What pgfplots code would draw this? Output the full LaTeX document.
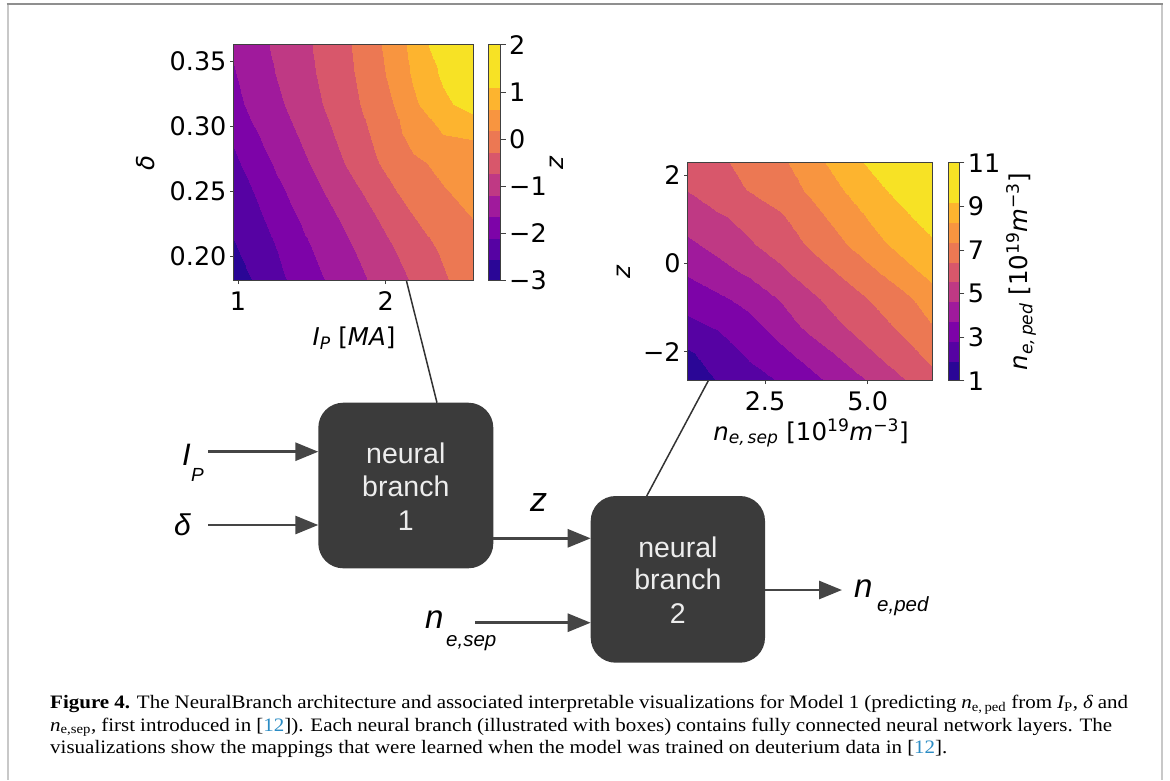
\documentclass[border=0pt]{standalone}
\usepackage{fontspec}
\usepackage{pgfplots}
\pgfplotsset{compat=1.18}
\usetikzlibrary{arrows.meta}
\setmainfont{DejaVu Sans}
\newfontfamily\boxfont{Liberation Sans}
\newfontfamily\capfont{Liberation Serif}
\definecolor{boxgray}{HTML}{3B3B3B}
\definecolor{arrowgray}{HTML}{454545}
\definecolor{citeblue}{HTML}{2B8CC4}
\definecolor{framegray}{HTML}{C8C8C8}
\definecolor{frametop}{HTML}{8F8F8F}
\newcommand\tickfont{\fontsize{25.5}{25.5}\selectfont}
\newcommand\labfont{\fontsize{24.5}{24.5}\selectfont}

\pgfplotsset{
  colormap={plasmaten}{rgb255=(42,6,150) rgb255=(86,2,163) rgb255=(125,3,168)
    rgb255=(160,26,156) rgb255=(191,57,132) rgb255=(216,87,107) rgb255=(236,120,83)
    rgb255=(248,149,64) rgb255=(253,180,47) rgb255=(247,226,37) rgb255=(247,226,37)},
  mpl/.style={scale only axis, anchor=south west, axis on top,
    tick align=outside, major tick length=3.5pt,
    axis line style={black!75, line width=0.8pt},
    tick style={black!75, line width=0.8pt},
    ticklabel style={font=\tickfont},
    xticklabel style={yshift=-4pt},
    colormap name=plasmaten, colormap access=piecewise constant},
  cbar/.style={mpl, xmin=0, xmax=1, xtick=\empty,
    ytick pos=right, yticklabel pos=right, major tick length=5pt},
}

\begin{document}
\begin{tikzpicture}
\path[use as bounding box] (0pt,0pt) rectangle (1170pt,-780pt);

% ---- z(I_P, delta) from neural branch 1 ----
\begin{axis}[mpl, at={(233.5pt,-280.7pt)}, width=239.5pt, height=236pt,
  xmin=0.97, xmax=2.59, ymin=0.181, ymax=0.363,
  xtick={1,2}, xticklabels={1,2},
  ytick={0.20,0.25,0.30,0.35}, yticklabels={0.20,0.25,0.30,0.35},
  xtick pos=bottom, ytick pos=left,
  point meta min=-3, point meta max=2]
\addplot[surf, shader=interp, mesh/cols=9, point meta=explicit]
  table[x=x, y=y, meta=z] {
x y z
0.97 0.181 -2.79
1.1725 0.181 -2.40
1.375 0.181 -2.01
1.5775 0.181 -1.66
1.78 0.181 -1.33
1.9825 0.181 -1.03
2.185 0.181 -0.68
2.3875 0.181 -0.33
2.59 0.181 -0.05
0.97 0.20375 -2.60
1.1725 0.20375 -2.26
1.375 0.20375 -1.90
1.5775 0.20375 -1.50
1.78 0.20375 -1.20
1.9825 0.20375 -0.88
2.185 0.20375 -0.51
2.3875 0.20375 -0.22
2.59 0.20375 0.04
0.97 0.2265 -2.45
1.1725 0.2265 -2.12
1.375 0.2265 -1.72
1.5775 0.2265 -1.36
1.78 0.2265 -1.05
1.9825 0.2265 -0.68
2.185 0.2265 -0.33
2.3875 0.2265 0.02
2.59 0.2265 0.17
0.97 0.24925 -2.35
1.1725 0.24925 -1.96
1.375 0.24925 -1.53
1.5775 0.24925 -1.19
1.78 0.24925 -0.84
1.9825 0.24925 -0.45
2.185 0.24925 -0.07
2.3875 0.24925 0.15
2.59 0.24925 0.30
0.97 0.272 -2.18
1.1725 0.272 -1.75
1.375 0.272 -1.36
1.5775 0.272 -1.03
1.78 0.272 -0.60
1.9825 0.272 -0.22
2.185 0.272 0.10
2.3875 0.272 0.28
2.59 0.272 0.42
0.97 0.29475 -2.00
1.1725 0.29475 -1.56
1.375 0.29475 -1.22
1.5775 0.29475 -0.87
1.78 0.29475 -0.45
1.9825 0.29475 -0.12
2.185 0.29475 0.36
2.3875 0.29475 0.65
2.59 0.29475 0.70
0.97 0.3175 -1.75
1.1725 0.3175 -1.42
1.375 0.3175 -1.08
1.5775 0.3175 -0.72
1.78 0.3175 -0.35
1.9825 0.3175 -0.01
2.185 0.3175 0.56
2.3875 0.3175 0.99
2.59 0.3175 1.30
0.97 0.34025 -1.66
1.1725 0.34025 -1.32
1.375 0.34025 -0.98
1.5775 0.34025 -0.65
1.78 0.34025 -0.29
1.9825 0.34025 0.14
2.185 0.34025 0.69
2.3875 0.34025 1.17
2.59 0.34025 1.53
0.97 0.363 -1.58
1.1725 0.363 -1.25
1.375 0.363 -0.92
1.5775 0.363 -0.62
1.78 0.363 -0.25
1.9825 0.363 0.21
2.185 0.363 0.76
2.3875 0.363 1.42
2.59 0.363 1.90
};
\end{axis}

% colour scale of z
\begin{axis}[cbar, at={(488.3pt,-280.7pt)}, width=12.4pt, height=236pt,
  ymin=-3, ymax=2, ytick={-3,-2,-1,0,1,2},
  yticklabels={−3,−2,−1,0,1,2},
  point meta min=-3, point meta max=2]
\addplot[surf, shader=interp, mesh/cols=2, point meta=explicit]
  table[x=x, y=y, meta=m] {
x y m
0 -3 -3
1 -3 -3
0 2 2
1 2 2
};
\end{axis}

% ---- n_e,ped(n_e,sep, z) from neural branch 2 ----
\begin{axis}[mpl, at={(687.7pt,-380.7pt)}, width=245pt, height=218pt,
  xmin=0.617, xmax=6.583, ymin=-2.657, ymax=2.279,
  xtick={2.5,5.0}, xticklabels={2.5,5.0},
  ytick={-2,0,2}, yticklabels={−2,0,2},
  xtick pos=bottom, ytick pos=left,
  point meta min=1, point meta max=11]
\addplot[surf, shader=interp, mesh/cols=9, point meta=explicit]
  table[x=x, y=y, meta=n] {
x y n
0.617 -2.657 1.45
1.363 -2.657 1.95
2.108 -2.657 2.42
2.854 -2.657 2.87
3.600 -2.657 3.45
4.346 -2.657 4.05
5.092 -2.657 4.73
5.837 -2.657 5.45
6.583 -2.657 6.18
0.617 -2.040 1.80
1.363 -2.040 2.31
2.108 -2.040 2.98
2.854 -2.040 3.52
3.600 -2.040 4.08
4.346 -2.040 4.82
5.092 -2.040 5.48
5.837 -2.040 6.10
6.583 -2.040 6.75
0.617 -1.423 2.63
1.363 -1.423 2.91
2.108 -1.423 3.44
2.854 -1.423 4.09
3.600 -1.423 4.92
4.346 -1.423 5.49
5.092 -1.423 6.03
5.837 -1.423 6.64
6.583 -1.423 7.36
0.617 -0.806 3.12
1.363 -0.806 3.56
2.108 -0.806 4.00
2.854 -0.806 4.69
3.600 -0.806 5.34
4.346 -0.806 5.97
5.092 -0.806 6.51
5.837 -0.806 7.05
6.583 -0.806 7.95
0.617 -0.189 3.86
1.363 -0.189 4.31
2.108 -0.189 4.79
2.854 -0.189 5.36
3.600 -0.189 6.00
4.346 -0.189 6.56
5.092 -0.189 7.17
5.837 -0.189 7.97
6.583 -0.189 8.52
0.617 0.428 4.48
1.363 0.428 4.93
2.108 0.428 5.45
2.854 0.428 5.98
3.600 0.428 6.57
4.346 0.428 7.23
5.092 0.428 7.99
5.837 0.428 8.53
6.583 0.428 9.05
0.617 1.045 5.05
1.363 1.045 5.43
2.108 1.045 5.82
2.854 1.045 6.34
3.600 1.045 6.99
4.346 1.045 7.74
5.092 1.045 8.38
5.837 1.045 8.96
6.583 1.045 9.66
0.617 1.662 5.58
1.363 1.662 6.10
2.108 1.662 6.49
2.854 1.662 6.88
3.600 1.662 7.51
4.346 1.662 8.22
5.092 1.662 8.84
5.837 1.662 9.53
6.583 1.662 10.25
0.617 2.279 5.95
1.363 2.279 6.31
2.108 2.279 6.69
2.854 2.279 7.16
3.600 2.279 7.92
4.346 2.279 8.63
5.092 2.279 9.35
5.837 2.279 10.06
6.583 2.279 10.60
};
\end{axis}

% colour scale of n_e,ped
\begin{axis}[cbar, at={(948.3pt,-380.7pt)}, width=11pt, height=218pt,
  ymin=1, ymax=11, ytick={1,3,5,7,9,11},
  yticklabels={1,3,5,7,9,11},
  point meta min=1, point meta max=11]
\addplot[surf, shader=interp, mesh/cols=2, point meta=explicit]
  table[x=x, y=y, meta=m] {
x y m
0 1 1
1 1 1
0 11 11
1 11 11
};
\end{axis}

\begin{scope}[x=1pt, y=-1pt]
% page frame
\draw[framegray, line width=2.4pt] (7.7,4) -- (7.7,780);
\draw[framegray, line width=2.4pt] (1161.7,4) -- (1161.7,780);
\draw[frametop, line width=1.2pt] (6.5,4) -- (1162.9,4);

% axis titles
\node[rotate=90, font=\labfont\itshape] at (146,162.7) {δ};
\node[font=\labfont] at (354,338) {{\itshape I}\textsubscript{\itshape P} [{\itshape MA}]};
\node[rotate=90, font=\labfont\itshape] at (557,162.7) {z};
\node[rotate=90, font=\labfont\itshape] at (624,271.7) {z};
\node[font=\labfont] at (811,433) {{\itshape n}\textsubscript{\itshape e,\,sep} [10\textsuperscript{19}{\itshape m}\textsuperscript{−3}]};
\node[rotate=90, font=\labfont] at (1021,271.7) {{\itshape n}\textsubscript{\itshape e,\,ped} [10\textsuperscript{19}{\itshape m}\textsuperscript{−3}]};

% links from the maps to their branches
\draw[black!80, line width=1.5pt] (406.5,281) -- (437,402.7);
\draw[black!80, line width=1.5pt] (708.3,380.7) -- (646.7,496);

% neural branches
\fill[boxgray, rounded corners=25pt] (318.3,402.7) rectangle (493.3,568.3);
\fill[boxgray, rounded corners=25pt] (590.7,496) rectangle (765,662.7);
\begin{scope}[every node/.style={font=\boxfont\fontsize{28.5}{30}\selectfont, text=white!93!black, anchor=base}]
\node at (405.8,463.3) {neural};
\node at (405.8,496) {branch};
\node at (405.8,530) {1};
\node at (677.9,557.3) {neural};
\node at (677.9,589.3) {branch};
\node at (677.9,623.3) {2};
\end{scope}

% arrows
\begin{scope}[arrowgray, line width=2.8pt, -{Triangle[length=23pt, width=18pt]}]
\draw (208,451.7) -- (318.3,451.7);
\draw (208,525) -- (318.3,525);
\draw (493.3,538.3) -- (590.7,538.3);
\draw (475,622.7) -- (590.7,622.7);
\draw (765,590) -- (842,590);
\end{scope}

% inputs and outputs
\begin{scope}[every node/.style={anchor=base west, inner sep=0pt}]
\node[font=\boxfont\itshape\fontsize{31}{31}\selectfont] at (182,465) {I};
\node[font=\boxfont\itshape\fontsize{19}{19}\selectfont] at (191,481) {P};
\node[font=\boxfont\itshape\fontsize{30}{30}\selectfont] at (174,535.7) {δ};
\node[font=\boxfont\itshape\fontsize{34}{34}\selectfont] at (530,511.7) {z};
\node[font=\boxfont\itshape\fontsize{33}{33}\selectfont] at (854,597.3) {n};
\node[font=\boxfont\itshape\fontsize{20.5}{20.5}\selectfont] at (877,611) {e,ped};
\node[font=\boxfont\itshape\fontsize{33}{33}\selectfont] at (425,628) {n};
\node[font=\boxfont\itshape\fontsize{20.5}{20.5}\selectfont] at (446,646) {e,sep};
\end{scope}

% caption
\begin{scope}[every node/.style={anchor=base west, inner sep=0pt, font=\capfont\fontsize{19}{22}\selectfont}]
\node at (50,708.7) {\scalebox{1.105}[1]{\makebox[975.6pt][s]{\textbf{Figure 4.} The NeuralBranch architecture and associated interpretable visualizations for Model 1 (predicting {\itshape n}\textsubscript{e,\,ped} from {\itshape I}\textsubscript{P}, {\itshape δ} and}}};
\node at (50,731.2) {\scalebox{1.105}[1]{\makebox[961.1pt][s]{{\itshape n}\textsubscript{e,sep}, first introduced in [\textcolor{citeblue}{12}]). Each neural branch (illustrated with boxes) contains fully connected neural network layers. The}}};
\node at (50,753.5) {\scalebox{1.105}[1]{visualizations show the mappings that were learned when the model was trained on deuterium data in [\textcolor{citeblue}{12}].}};
\end{scope}
\end{scope}
\end{tikzpicture}
\end{document}
